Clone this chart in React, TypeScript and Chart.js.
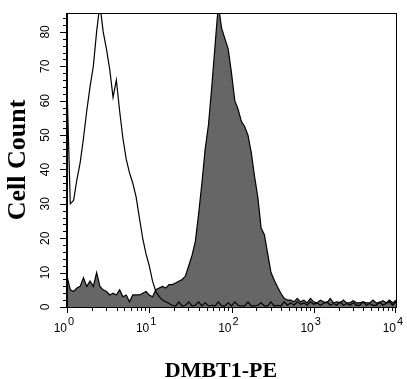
import React, { useEffect, useRef } from "react";
import { Chart, registerables } from "chart.js";

Chart.register(...registerables);

// Histogram channels: 25 log-spaced bins per decade, from 10^0 to 10^4
const BINS_PER_DECADE = 25;
const DECADES = 4;

// Isotype control (open outline)
const isotypeCounts = [
  64, 30, 31, 37, 42, 49, 57, 64, 70, 80,
  88, 80, 75, 69, 61, 66, 57, 49, 43, 39,
  36, 32, 26, 20, 15.5, 12, 7.5, 4.5, 3, 2,
  1.5, 1, 0.5, 0.3, 1.5, 0.3, 0.5, 1.5, 0.3, 0.5,
  1.5, 0.3, 1.2, 0.3, 0.5, 0.3, 1.5, 0.3, 0.3, 1.2,
  0.3, 1.5, 0.5, 0.3, 0.3, 1.5, 0.3, 0.3, 0.5, 1.2,
  0.3, 0.3, 1.5, 0.3, 0.5, 0.3, 1.5, 0.5, 1.2, 0.5,
  1.5, 0.8, 1.2, 0.5, 1.5, 0.8, 1.2, 0.5, 1, 1.5,
  0.5, 1, 0.5, 1.5, 0.5, 1, 0.5, 1.2, 0.5, 0.5,
  1.5, 0.5, 1, 0.5, 0.5, 1.5, 0.5, 1, 1.5, 0.5,
  1.5,
];

// DMBT1-PE stained (filled gray)
const dmbt1Counts = [
  9, 5, 4.5, 5.5, 6, 8.5, 6, 7.5, 6, 10,
  6, 5, 4.5, 3.5, 4, 3.5, 5, 3, 3.5, 1.5,
  3.5, 3.5, 3.5, 4, 4.5, 3.5, 3, 5, 5.5, 6,
  5.5, 6.5, 6.5, 7, 7.5, 8, 9, 12, 15, 19,
  27, 36, 46, 53, 64, 76, 88, 81, 78, 75,
  68, 60, 57.5, 54, 52.5, 50, 45, 38, 32, 23,
  21, 15.5, 10, 7.8, 5.8, 4, 2.5, 2, 2, 1.5,
  2.5, 1.5, 2, 1.2, 2.5, 1.5, 1.2, 2, 1.5, 1.2,
  2.5, 1.2, 1.5, 1.2, 2, 1.2, 1.2, 1.8, 1.2, 1.2,
  1.5, 1.2, 1.2, 2, 1.2, 1.2, 1.8, 1.2, 2, 1.2,
  2,
];

const yMajorTicks = [0, 10, 20, 30, 40, 50, 60, 70, 80];
const yMinorStep = 2;
const yMax = 85.5;
const xExponents = [0, 1, 2, 3, 4];
const xTitle = "DMBT1-PE";
const yTitle = "Cell Count";

const toPoints = (vals: number[]) =>
  vals.map((v, i) => ({ x: Math.pow(10, i / BINS_PER_DECADE), y: v }));

const axesPlugin = {
  id: "flowAxes",
  afterDraw(chart: any) {
    const { ctx, chartArea: a, scales } = chart;
    const xs = scales.x;
    const ys = scales.y;
    ctx.save();
    ctx.strokeStyle = "#000";
    ctx.fillStyle = "#000";

    // frame
    ctx.lineWidth = 1;
    ctx.strokeRect(a.left + 0.5, a.top + 0.5, a.right - a.left, a.bottom - a.top);
    ctx.lineWidth = 2;
    ctx.beginPath();
    ctx.moveTo(a.left, a.top);
    ctx.lineTo(a.left, a.bottom + 1);
    ctx.stroke();

    // y ticks
    ctx.lineWidth = 1;
    for (let v = 0; v <= yMax; v += yMinorStep) {
      const py = Math.round(ys.getPixelForValue(v)) + 0.5;
      const len = v % 10 === 0 ? 7 : 4;
      ctx.beginPath();
      ctx.moveTo(a.left - len, py);
      ctx.lineTo(a.left, py);
      ctx.stroke();
    }
    ctx.font = '12px "Liberation Sans", Arial, sans-serif';
    ctx.textAlign = "center";
    ctx.textBaseline = "alphabetic";
    yMajorTicks.forEach((v) => {
      const py = ys.getPixelForValue(v);
      ctx.save();
      ctx.translate(a.left - 18, py);
      ctx.rotate(-Math.PI / 2);
      ctx.fillText(String(v), 0, 0);
      ctx.restore();
    });

    // x ticks
    for (let k = 0; k < DECADES; k++) {
      for (let m = 1; m <= 9; m++) {
        const val = m * Math.pow(10, k);
        const px = Math.round(xs.getPixelForValue(val)) + 0.5;
        const len = m === 1 ? 6 : 4;
        ctx.beginPath();
        ctx.moveTo(px, a.bottom);
        ctx.lineTo(px, a.bottom + len);
        ctx.stroke();
      }
    }
    {
      const px = Math.round(xs.getPixelForValue(Math.pow(10, DECADES))) - 0.5;
      ctx.beginPath();
      ctx.moveTo(px, a.bottom);
      ctx.lineTo(px, a.bottom + 6);
      ctx.stroke();
    }
    xExponents.forEach((e) => {
      const px = xs.getPixelForValue(Math.pow(10, e));
      ctx.font = '12px "Liberation Sans", Arial, sans-serif';
      ctx.textAlign = "right";
      ctx.fillText("10", px, a.bottom + 25);
      ctx.font = '11px "Liberation Sans", Arial, sans-serif';
      ctx.textAlign = "left";
      ctx.fillText(String(e), px + 1, a.bottom + 18);
    });

    // axis titles
    ctx.font = 'bold 22px "Liberation Serif", "Times New Roman", serif';
    ctx.textAlign = "center";
    ctx.fillText(xTitle, 221, 377);
    ctx.save();
    ctx.font = 'bold 26px "Liberation Serif", "Times New Roman", serif';
    ctx.translate(25, 160);
    ctx.rotate(-Math.PI / 2);
    ctx.fillText(yTitle, 0, 0);
    ctx.restore();

    ctx.restore();
  },
};

export default function App() {
  const ref = useRef<HTMLCanvasElement | null>(null);
  useEffect(() => {
    if (!ref.current) return;
    const chart = new Chart(ref.current, {
      type: "line",
      data: {
        datasets: [
          {
            label: "DMBT1-PE",
            data: toPoints(dmbt1Counts),
            borderColor: "#000",
            borderWidth: 1.2,
            backgroundColor: "#666666",
            fill: "origin",
            pointRadius: 0,
            tension: 0,
            order: 2,
          },
          {
            label: "Isotype",
            data: toPoints(isotypeCounts),
            borderColor: "#000",
            borderWidth: 1.2,
            backgroundColor: "rgba(0,0,0,0)",
            fill: false,
            pointRadius: 0,
            tension: 0,
            order: 1,
          },
        ],
      },
      options: {
        responsive: false,
        animation: false,
        layout: { padding: { left: 67, right: 11, top: 13, bottom: 72 } },
        scales: {
          x: { type: "logarithmic", min: 1, max: 10000, display: false },
          y: { type: "linear", min: 0, max: yMax, display: false },
        },
        plugins: { legend: { display: false }, tooltip: { enabled: false } },
      },
      plugins: [axesPlugin],
    });
    return () => chart.destroy();
  }, []);
  return (
    <div style={{ position: "fixed", left: 0, top: 0, width: 407, height: 379, background: "#fff" }}>
      <canvas ref={ref} width={407} height={379} style={{ display: "block" }} />
    </div>
  );
}
